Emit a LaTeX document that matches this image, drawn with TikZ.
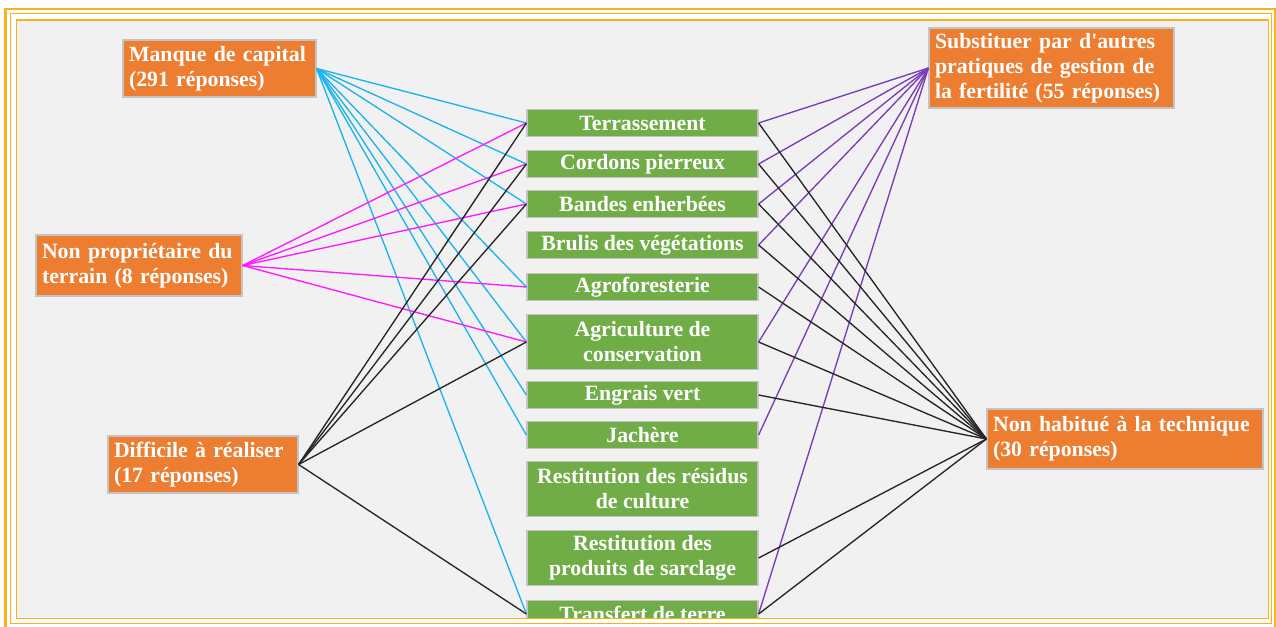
\documentclass[tikz,border=0pt]{standalone}
\usepackage{fontspec}
\setmainfont[Ligatures=TeXOff]{Liberation Serif}
\definecolor{orangebox}{HTML}{ED7D31}
\definecolor{greenbox}{HTML}{70AD47}
\definecolor{framecol}{HTML}{FBB11E}
\definecolor{bgcol}{HTML}{F1F1F1}
\definecolor{cyanl}{HTML}{1CB4EC}
\definecolor{magl}{HTML}{FF1AFF}
\definecolor{purpl}{HTML}{7B3CB8}
\definecolor{darkl}{HTML}{262626}
\definecolor{boxedge}{HTML}{C4C4C4}
\tikzset{
 txt/.style={font=\fontsize{21.8}{25}\selectfont\bfseries, text=white},
 cause/.style={txt, fill=orangebox, draw=boxedge, line width=1.2pt, inner xsep=6pt, inner ysep=0pt, align=left},
 tech/.style={txt, fill=greenbox, draw=boxedge, line width=1.2pt, inner sep=0pt, minimum width=231pt, align=center},
 one/.style={tech, minimum height=27pt},
 two/.style={tech, minimum height=55pt},
 lnk/.style={line width=1.35pt},
 frm/.style={draw=framecol},
}
\begin{document}
\begin{tikzpicture}[x=1pt,y=-1pt]
\useasboundingbox (0,0) rectangle (1276,626);
\fill[white] (0,0) rectangle (1276,626);
\begin{scope}
\clip (16.5,19.8) rectangle (1268.5,618.5);
\fill[bgcol] (0,0) rectangle (1276,626);
% cause boxes
\node[cause, text width=181pt, minimum height=57pt] (manque) at (219.5,68.5) {Manque de capital\\(291 réponses)};
\node[cause, text width=194pt, minimum height=61pt] (nonprop) at (139,265.5) {Non propriétaire du\\terrain (8 réponses)};
\node[cause, text width=178pt, minimum height=57pt] (diff) at (203,464.5) {Difficile à réaliser\\(17 réponses)};
\node[cause, text width=233pt, minimum height=80pt] (subst) at (1051.5,68) {Substituer par d'autres\\pratiques de gestion de\\la fertilité (55 réponses)};
\node[cause, text width=264pt, minimum height=60pt] (nonhab) at (1125,439) {Non habitué à la technique\\(30 réponses)};
% technique boxes
\node[one] (terr) at (642.5,123) {Terrassement};
\node[one] (cord) at (642.5,164) {Cordons pierreux};
\node[one] (band) at (642.5,204) {Bandes enherbées};
\node[one] (brul) at (642.5,245) {Brulis des végétations};
\node[one] (agro) at (642.5,287) {Agroforesterie};
\node[two] (agri) at (642.5,342) {Agriculture de\\conservation};
\node[one] (engr) at (642.5,395) {Engrais vert};
\node[one] (jach) at (642.5,435) {Jachère};
\node[two] (resid) at (642.5,489) {Restitution des résidus\\de culture};
\node[two] (prod) at (642.5,558) {Restitution des\\produits de sarclage};
\node[one] (trans) at (642.5,614) {Transfert de terre};
% connectors
\foreach \t in {terr,cord,band,agro,agri,engr,jach,trans}
  \draw[lnk, cyanl] (manque.east) -- (\t.west);
\foreach \t in {terr,cord,band,agro,agri}
  \draw[lnk, magl] (nonprop.east) -- (\t.west);
\foreach \t in {terr,cord,band,agri,trans}
  \draw[lnk, darkl] (diff.east) -- (\t.west);
\foreach \t in {terr,cord,band,brul,agri,jach,trans}
  \draw[lnk, purpl] (subst.west) -- (\t.east);
\foreach \t in {terr,cord,band,brul,agro,agri,engr,prod,trans}
  \draw[lnk, darkl] (nonhab.west) -- (\t.east);
\end{scope}
% frame
\draw[frm, line width=2.2pt] (5.5,9.3) rectangle (1275,628);
\draw[frm, line width=1.4pt] (10.2,13.3) rectangle (1271.7,623.5);
\draw[frm, line width=1.6pt] (16.5,19.8) rectangle (1268.5,618.5);
\end{tikzpicture}
\end{document}
